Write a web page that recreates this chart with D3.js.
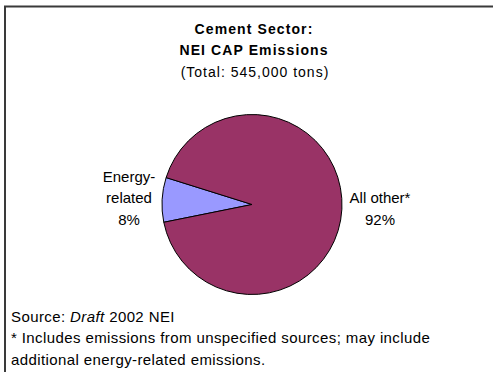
<!DOCTYPE html>
<html>
<head>
<meta charset="utf-8">
<script src="https://cdn.jsdelivr.net/npm/d3@7"></script>
<style>
  html, body { margin: 0; padding: 0; background: #fff; }
  svg { display: block; font-family: Arial, "Liberation Sans", sans-serif; }
</style>
</head>
<body>
<svg id="chart" width="493" height="372"></svg>
<script>
// Cement sector emission shares (percent of total CAP tons)
const categories = ["Energy-related", "All other*"];
const shares = [8, 92];
const sliceColors = ["#9999FF", "#993366"];
const labelLines = [["Energy-", "related", "8%"], ["All other*", "92%"]];

const titleLines = ["Cement Sector:", "NEI CAP Emissions"];
const subtitle = "(Total: 545,000 tons)";
const footnotes = [
  ["Source: ", "Draft", " 2002 NEI"],
  ["* Includes emissions from unspecified sources; may include"],
  ["additional energy-related emissions."]
];

const W = 493, H = 372;
const svg = d3.select("#chart");

// Outer frame (continues past right and bottom edges)
svg.append("rect")
  .attr("x", 5).attr("y", 6.5)
  .attr("width", W + 20).attr("height", H + 20)
  .attr("fill", "none").attr("stroke", "#3a3a3a").attr("stroke-width", 2);

// Title block
const title = svg.append("g").attr("text-anchor", "middle").attr("fill", "#000");
titleLines.forEach((t, i) => {
  title.append("text")
    .attr("x", 254).attr("y", 33.5 + i * 21.5)
    .attr("font-size", 14).attr("font-weight", "bold")
    .attr("letter-spacing", 1.1)
    .text(t);
});
title.append("text")
  .attr("x", 255).attr("y", 76.5)
  .attr("font-size", 14).attr("letter-spacing", 1.0)
  .text(subtitle);

// Pie
const cx = 252, cy = 204.5, r = 90;
const deg = Math.PI / 180;
const start = 258.6 * deg;
const pie = d3.pie().sort(null).value(d => d)
  .startAngle(start).endAngle(start + 2 * Math.PI);
const arc = d3.arc().innerRadius(0).outerRadius(r);
const arcs = pie(shares);

const g = svg.append("g").attr("transform", `translate(${cx},${cy})`);
g.selectAll("path")
  .data(arcs)
  .join("path")
  .attr("d", arc)
  .attr("fill", (d, i) => sliceColors[i])
  .attr("stroke", "#000")
  .attr("stroke-width", 1)
  .attr("stroke-linejoin", "round");

// Slice labels placed outside the pie, to the side of each slice
const labelPos = [
  { x: 129, y: 181.5 },
  { x: 380, y: 203 }
];
labelLines.forEach((lines, i) => {
  const t = svg.append("text")
    .attr("text-anchor", "middle")
    .attr("font-size", 15)
    .attr("fill", "#000");
  lines.forEach((ln, j) => {
    t.append("tspan")
      .attr("x", labelPos[i].x)
      .attr("y", labelPos[i].y + j * 21.5)
      .text(ln);
  });
});

// Footnotes
footnotes.forEach((parts, i) => {
  const t = svg.append("text")
    .attr("x", 11).attr("y", 321.5 + i * 21.5)
    .attr("font-size", 15).attr("letter-spacing", 0.4).attr("fill", "#000");
  parts.forEach(p => {
    const s = t.append("tspan").text(p);
    if (p === "Draft") s.attr("font-style", "italic");
  });
});
</script>
</body>
</html>
